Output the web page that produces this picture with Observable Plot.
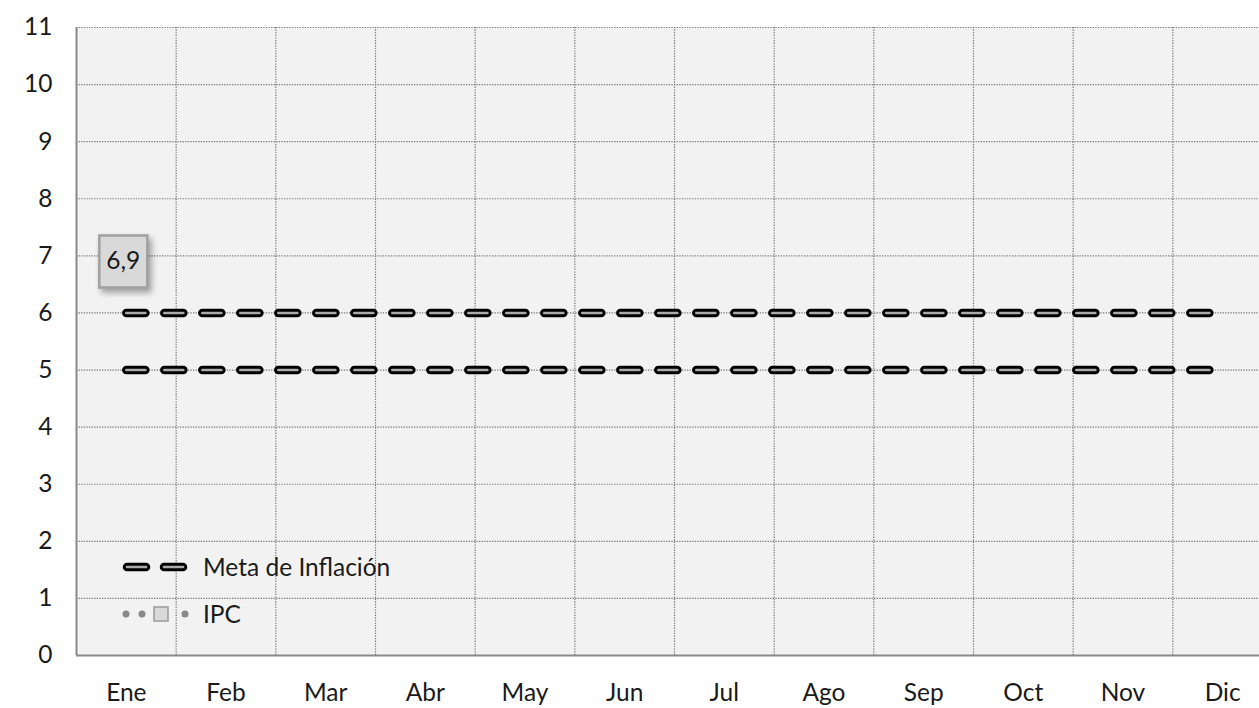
<!DOCTYPE html>
<html><head><meta charset="utf-8">
<script src="https://cdn.jsdelivr.net/npm/d3@7"></script>
<script src="https://cdn.jsdelivr.net/npm/@observablehq/plot@0.6"></script>
<style>
html,body{margin:0;padding:0;background:#fff;overflow:hidden;width:1259px;height:708px;}
#chart{position:relative;width:1275px;}
#chart svg{max-width:none !important;}
</style></head>
<body><div id="chart"></div>
<script>
const months = ["Ene","Feb","Mar","Abr","May","Jun","Jul","Ago","Sep","Oct","Nov","Dic"];
const metaLow = [5,5,5,5,5,5,5,5,5,5,5,5];
const metaHigh = [6,6,6,6,6,6,6,6,6,6,6,6];
const ipc = [6.9,null,null,null,null,null,null,null,null,null,null,null];
const ipcLabels = ["6,9"];
const yTicks = [0,1,2,3,4,5,6,7,8,9,10,11];
const seriesNames = ["Meta de Inflación","IPC"];

const FONT = "Lato, 'Open Sans', sans-serif";
const FS = 24.5;
const pos = months.map((m,i)=>i+0.5);
const bounds = d3.range(1,12);
const meta = [];
months.forEach((m,i)=>{meta.push({x:i+0.5,y:metaLow[i],s:"low"});});
months.forEach((m,i)=>{meta.push({x:i+0.5,y:metaHigh[i],s:"high"});});
const ipcData = months.map((m,i)=>({x:i+0.5,y:ipc[i],label: ipc[i]==null?null:ipcLabels[i]})).filter(d=>d.y!=null);

const boxSymbol = {draw(ctx){ctx.moveTo(-24,-26);ctx.lineTo(24,-26);ctx.lineTo(24,26);ctx.lineTo(-24,26);ctx.closePath();}};
const dashStyle = {strokeDasharray:"19,19", strokeLinecap:"round"};

const chart = Plot.plot({
  width:1275, height:708,
  marginLeft:76, marginRight:3, marginTop:27, marginBottom:53,
  style:{fontFamily:FONT, fontSize:FS+"px", color:"#1a1a1a", background:"transparent", overflow:"visible", maxWidth:"none"},
  x:{domain:[0,12], axis:null},
  y:{domain:[0,11], axis:null},
  marks:[
    Plot.frame({fill:"#f2f2f2", stroke:null}),
    Plot.ruleY(yTicks.slice(1), {stroke:"#777", strokeWidth:1.2, strokeDasharray:"1.3,1.3"}),
    Plot.ruleX(bounds, {stroke:"#777", strokeWidth:1.2, strokeDasharray:"1.3,1.3"}),
    Plot.ruleX([0], {stroke:"#8a8a8a", strokeWidth:2}),
    Plot.ruleY([0], {stroke:"#8a8a8a", strokeWidth:2}),
    Plot.axisY(yTicks, {label:null, tickSize:0, tickPadding:24, fontSize:FS, fill:"#1a1a1a", tickFormat:d=>String(d)}),
    Plot.axisX(pos, {label:null, tickSize:0, tickPadding:28, fontSize:FS, fill:"#1a1a1a", tickFormat:(d)=>months[Math.round(d-0.5)]}),
    Plot.line(meta, {x:"x", y:"y", z:"s", stroke:"#000", strokeWidth:8.5, ...dashStyle}),
    Plot.line(meta, {x:"x", y:"y", z:"s", stroke:"#ababab", strokeWidth:2.6, ...dashStyle}),
    Plot.line(ipcData, {x:"x", y:"y", stroke:"#888", strokeWidth:7, strokeDasharray:"0,16", strokeLinecap:"round"}),
    Plot.dot(ipcData, {x:"x", y:"y", dx:-3, symbol:boxSymbol, fill:"#d9d9d9", stroke:"#a0a0a0", strokeWidth:2.5, r:5}),
    Plot.text(ipcData, {x:"x", y:"y", dx:-3, text:"label", fontSize:FS, fill:"#1a1a1a"})
  ]
});
document.getElementById("chart").appendChild(chart);
const svg = d3.select(chart);
svg.selectAll("g[aria-label=dot] path").style("filter","drop-shadow(3px 4px 3px rgba(0,0,0,0.35))");

// legend inside plot area
const lg = svg.append("g").attr("text-anchor","start");
const ly1 = 567, ly2 = 614;
[[127,146],[164,183]].forEach(([a,b])=>{
  lg.append("line").attr("x1",a).attr("x2",b).attr("y1",ly1).attr("y2",ly1).attr("stroke","#000").attr("stroke-width",8.5).attr("stroke-linecap","round");
  lg.append("line").attr("x1",a).attr("x2",b).attr("y1",ly1).attr("y2",ly1).attr("stroke","#ababab").attr("stroke-width",2.6).attr("stroke-linecap","round");
});
[126,142,185].forEach(cx=>lg.append("circle").attr("cx",cx).attr("cy",ly2).attr("r",3.5).attr("fill","#888"));
lg.append("rect").attr("x",154).attr("y",ly2-7).attr("width",14).attr("height",14).attr("fill","#d9d9d9").attr("stroke","#999").attr("stroke-width",1.5);
lg.append("text").attr("x",203).attr("y",ly1).attr("dy","0.35em").attr("text-anchor","start").attr("font-family",FONT).attr("font-size",FS).attr("fill","#1a1a1a").text(seriesNames[0]);
lg.append("text").attr("x",203).attr("y",ly2).attr("dy","0.35em").attr("text-anchor","start").attr("font-family",FONT).attr("font-size",FS).attr("fill","#1a1a1a").text(seriesNames[1]);
</script></body></html>
